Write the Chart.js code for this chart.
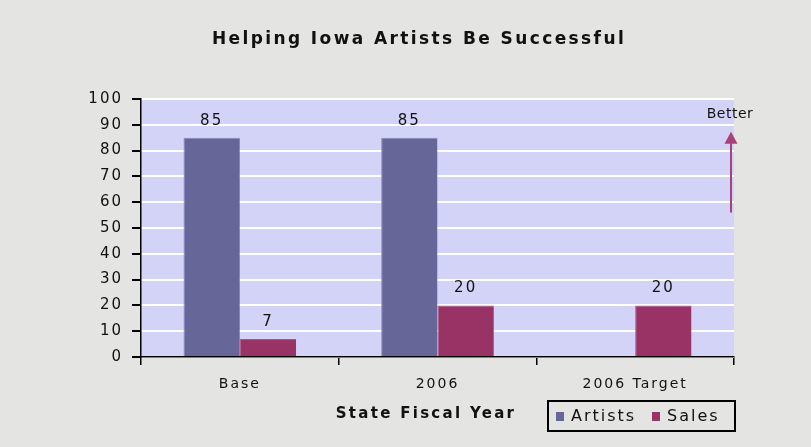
<!DOCTYPE html>
<html>
<head>
<meta charset="utf-8">
<script src="https://cdn.jsdelivr.net/npm/chart.js@4"></script>
<style>
  html, body { margin: 0; padding: 0; background: #e4e4e2; }
  #wrap { width: 811px; height: 447px; }
</style>
</head>
<body>
<div id="wrap"><canvas id="c" width="811" height="447"></canvas></div>
<script>
// Helping Iowa Artists Be Successful — artists served and sales, by fiscal year
const categories = ['Base', '2006', '2006 Target'];
const artists = [85, 85, null];
const sales = [7, 20, 20];
const yTicks = { min: 0, max: 100, step: 10 };

const COL_ARTISTS = '#666699';
const COL_SALES = '#993366';
const FONT = '"DejaVu Sans", Verdana, sans-serif';
const SPACING = '2px';

// wide, slightly spaced lettering for all canvas text
const spacingPlugin = {
  id: 'spacing',
  beforeUpdate(chart) { chart.ctx.letterSpacing = SPACING; },
  beforeDraw(chart) { chart.ctx.letterSpacing = SPACING; }
};

// page background and the lavender plot area
const backdrop = {
  id: 'backdrop',
  beforeDraw(chart) {
    const { ctx, chartArea: a } = chart;
    ctx.save();
    ctx.fillStyle = '#e4e4e2';
    ctx.fillRect(0, 0, chart.width, chart.height);
    ctx.fillStyle = '#d3d3f8';
    ctx.fillRect(a.left, a.top, a.right - a.left, a.bottom - a.top);
    ctx.restore();
  }
};

// value labels above each bar, title, axis title, "Better" arrow and legend
const decorations = {
  id: 'decorations',
  afterDatasetsDraw(chart) {
    const { ctx, chartArea: a, scales } = chart;
    ctx.save();
    ctx.letterSpacing = SPACING;
    ctx.fillStyle = '#111';
    ctx.font = '15px ' + FONT;
    ctx.textAlign = 'center';
    ctx.textBaseline = 'alphabetic';
    chart.data.datasets.forEach((ds, i) => {
      chart.getDatasetMeta(i).data.forEach((bar, j) => {
        const v = ds.data[j];
        if (v === null || v === undefined) return;
        ctx.fillText(String(v), bar.x, bar.y - 13);
      });
    });

    // chart title
    ctx.font = 'bold 17px ' + FONT;
    ctx.letterSpacing = '2.4px';
    ctx.fillText('Helping Iowa Artists Be Successful', 419, 44);

    // x axis title
    ctx.font = 'bold 15px ' + FONT;
    ctx.letterSpacing = '2.3px';
    ctx.fillText('State Fiscal Year', 426, 418);

    // "Better" direction arrow near the right edge of the plot
    const y = scales.y;
    const ax = a.right - 3;
    const yTop = y.getPixelForValue(86.5);
    const yBot = y.getPixelForValue(56);
    ctx.strokeStyle = '#a8407a';
    ctx.fillStyle = '#a8407a';
    ctx.lineWidth = 2;
    ctx.beginPath();
    ctx.moveTo(ax, yBot);
    ctx.lineTo(ax, yTop + 6);
    ctx.stroke();
    ctx.beginPath();
    ctx.moveTo(ax, yTop - 2);
    ctx.lineTo(ax - 6.5, yTop + 10);
    ctx.lineTo(ax + 6.5, yTop + 10);
    ctx.closePath();
    ctx.fill();
    ctx.fillStyle = '#111';
    ctx.font = '14px ' + FONT;
    ctx.letterSpacing = '0.5px';
    ctx.fillText('Better', ax - 1, y.getPixelForValue(94.5) + 5);

    // legend box
    const lx = 548, ly = 401, lw = 187, lh = 30;
    ctx.strokeStyle = '#000';
    ctx.lineWidth = 2;
    ctx.strokeRect(lx, ly, lw, lh);
    ctx.font = '16px ' + FONT;
    ctx.letterSpacing = '2px';
    ctx.textAlign = 'left';
    ctx.textBaseline = 'middle';
    const items = [
      { label: chart.data.datasets[0].label, color: COL_ARTISTS, x: 556 },
      { label: chart.data.datasets[1].label, color: COL_SALES, x: 652 }
    ];
    items.forEach(it => {
      ctx.fillStyle = it.color;
      ctx.fillRect(it.x, ly + 11, 8, 9);
      ctx.fillStyle = '#111';
      ctx.fillText(it.label, it.x + 15, ly + 16);
    });
    ctx.restore();
  }
};

new Chart(document.getElementById('c'), {
  type: 'bar',
  data: {
    labels: categories,
    datasets: [
      { label: 'Artists', data: artists, backgroundColor: COL_ARTISTS,
        borderColor: '#8a8ab8', borderWidth: { left: 1, right: 0, top: 1, bottom: 0 } },
      { label: 'Sales', data: sales, backgroundColor: COL_SALES,
        borderColor: '#b0577f', borderWidth: { left: 1, right: 0, top: 1, bottom: 0 } }
    ]
  },
  options: {
    responsive: false,
    animation: false,
    layout: { padding: { top: 99, right: 77, left: 0, bottom: 0 } },
    datasets: { bar: { barPercentage: 1.0, categoryPercentage: 0.57 } },
    plugins: { legend: { display: false }, title: { display: false }, tooltip: { enabled: false } },
    scales: {
      x: {
        offset: true,
        grid: { offset: true, drawOnChartArea: false, color: '#000', tickColor: '#000', tickLength: 8, lineWidth: 1.5 },
        border: { color: '#000', width: 1.5 },
        ticks: { color: '#111', font: { family: FONT, size: 14 }, padding: 11 },
        afterFit(scale) { scale.height = 90; }
      },
      y: {
        min: yTicks.min, max: yTicks.max,
        grid: { color: '#ffffff', lineWidth: 2, tickColor: '#000', tickLength: 9 },
        border: { color: '#000', width: 1.5 },
        ticks: { stepSize: yTicks.step, color: '#111', font: { family: FONT, size: 15 }, padding: 9 },
        afterFit(scale) { scale.width = 141; }
      }
    }
  },
  plugins: [spacingPlugin, backdrop, decorations]
});
</script>
</body>
</html>
